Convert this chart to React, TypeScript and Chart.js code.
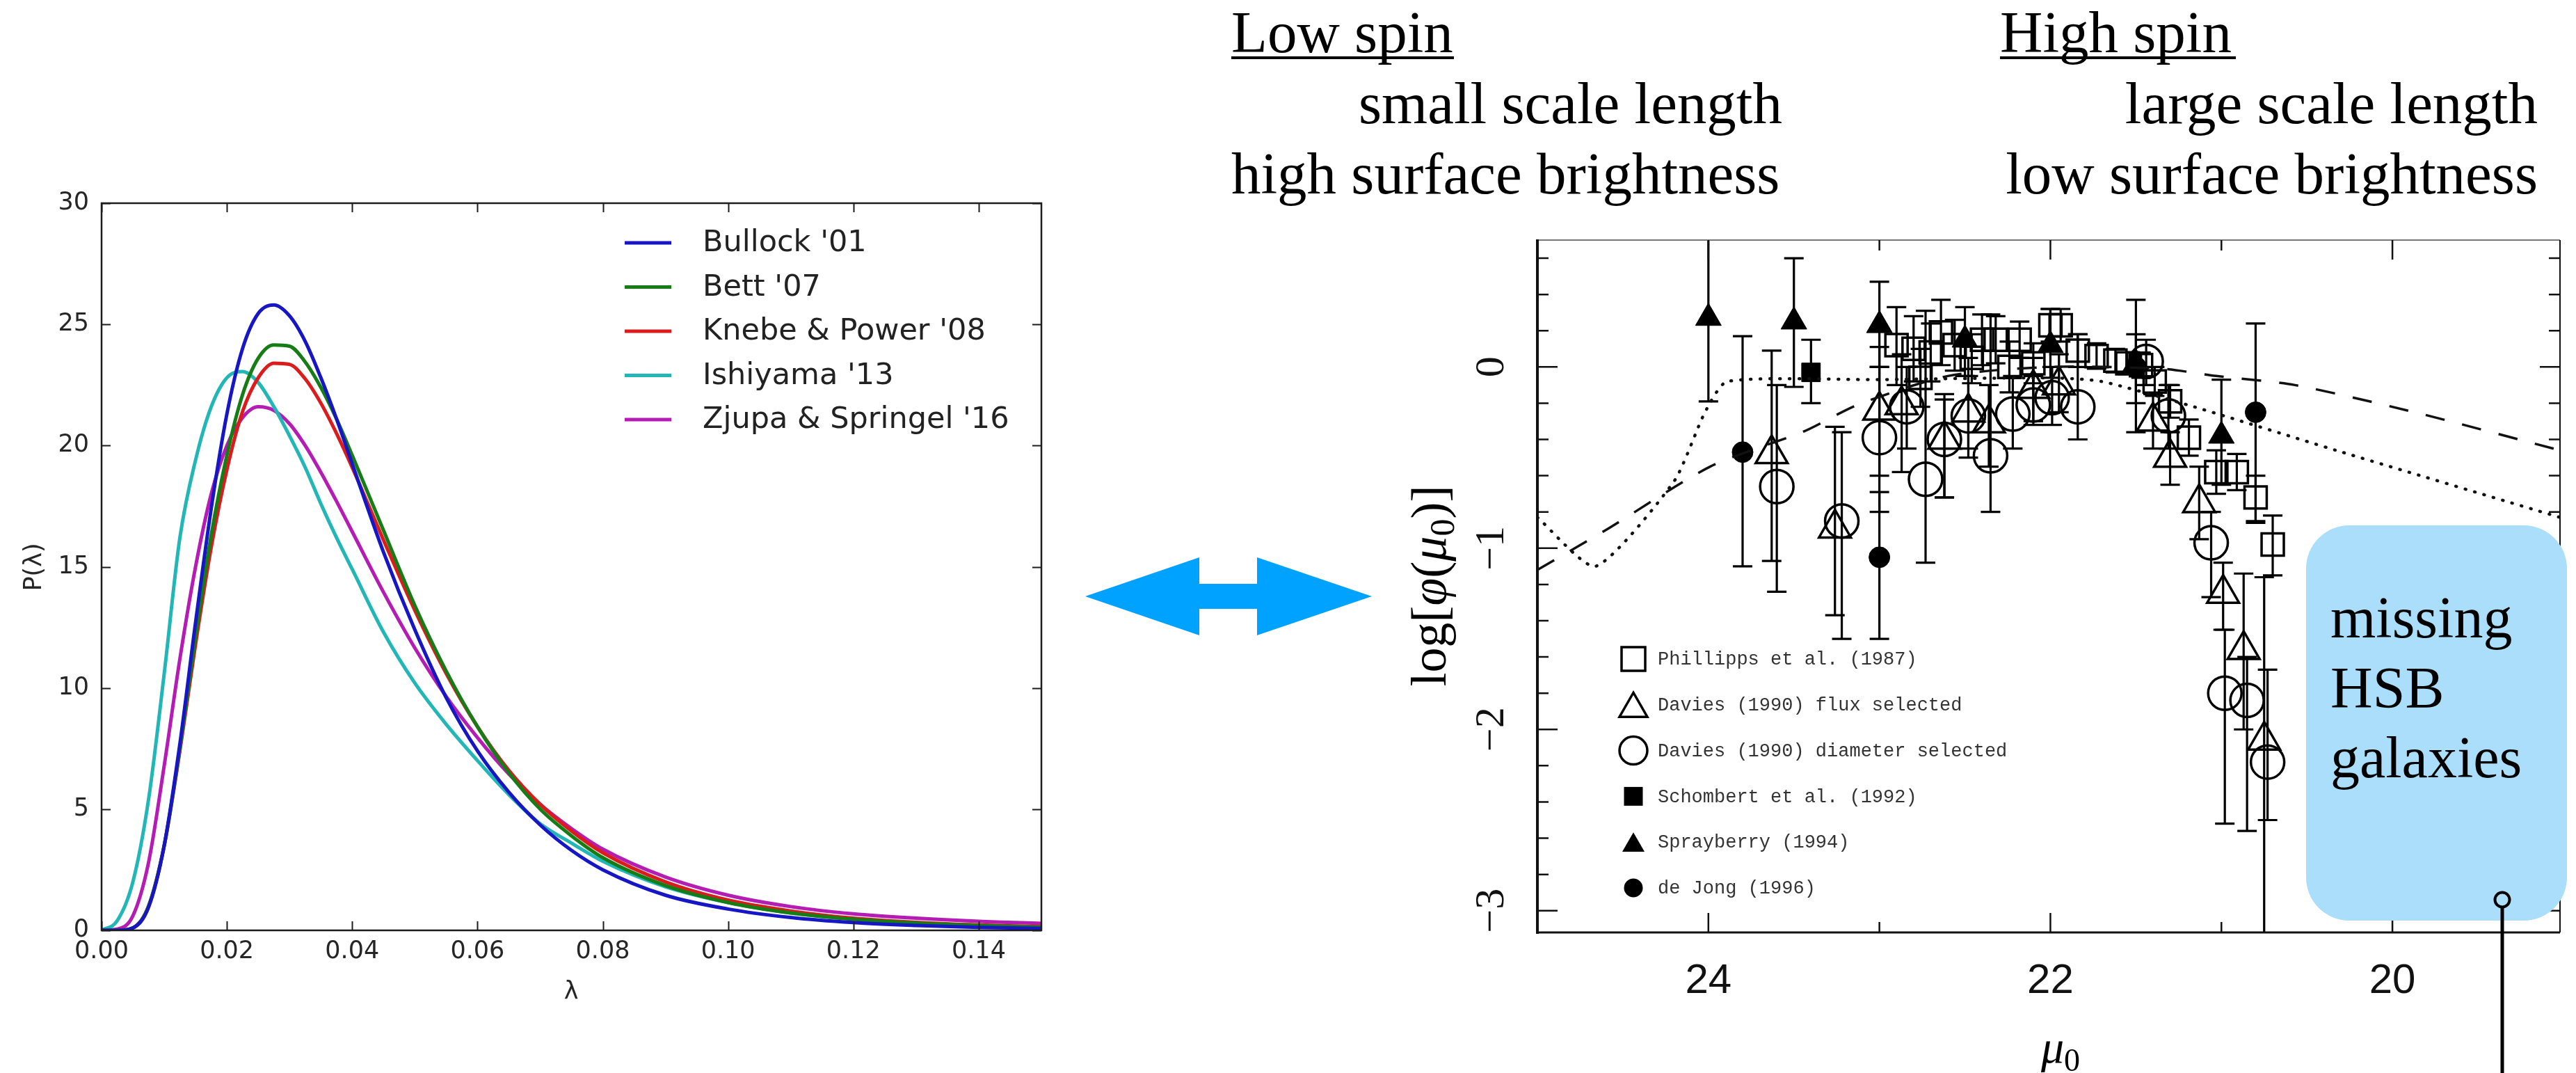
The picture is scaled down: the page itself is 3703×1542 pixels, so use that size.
import React, { useEffect, useRef } from 'react';
import { Chart, registerables } from 'chart.js';

Chart.register(...registerables);

// ---------------- Left panel: spin-parameter distributions ----------------
const LAMBDA = [0, 0.0025, 0.005, 0.0075, 0.01, 0.0125, 0.015, 0.0175, 0.02, 0.0225, 0.025, 0.0275, 0.03, 0.0325, 0.035, 0.0375, 0.04, 0.045, 0.05, 0.055, 0.06, 0.065, 0.07, 0.075, 0.08, 0.09, 0.10, 0.11, 0.12, 0.13, 0.14, 0.15];
const BULLOCK_01 = [0, 0, 0.1, 0.95, 3.5, 7.7, 12.7, 17.4, 21.3, 24.0, 25.45, 25.8, 25.35, 24.3, 22.8, 21.1, 19.25, 15.6, 12.4, 9.6, 7.4, 5.7, 4.35, 3.3, 2.5, 1.45, 0.88, 0.53, 0.32, 0.2, 0.12, 0.08];
const BETT_07 = [0, 0, 0.1, 1.0, 3.5, 7.5, 12.1, 16.3, 19.6, 22.1, 23.6, 24.15, 24.1, 23.45, 22.4, 21.1, 19.6, 16.5, 13.4, 10.7, 8.4, 6.5, 5.0, 3.9, 3.0, 1.85, 1.15, 0.72, 0.46, 0.3, 0.2, 0.13];
const KNEBE_POWER_08 = [0, 0, 0.1, 1.0, 3.5, 7.4, 11.8, 15.8, 19.0, 21.4, 22.8, 23.4, 23.35, 22.75, 21.75, 20.5, 19.1, 16.1, 13.2, 10.6, 8.4, 6.6, 5.2, 4.1, 3.2, 2.0, 1.25, 0.8, 0.5, 0.33, 0.22, 0.15];
const ISHIYAMA_13 = [0, 0.4, 2.0, 5.4, 10.6, 16.2, 19.4, 21.6, 22.8, 23.05, 22.6, 21.6, 20.4, 19.1, 17.6, 16.2, 14.9, 12.3, 10.2, 8.5, 7.0, 5.6, 4.4, 3.6, 2.85, 1.8, 1.15, 0.72, 0.47, 0.31, 0.21, 0.15];
const ZJUPA_SPRINGEL_16 = [0, 0.05, 0.6, 2.8, 6.8, 11.2, 15.0, 18.0, 20.0, 21.15, 21.6, 21.45, 20.9, 20.0, 18.9, 17.7, 16.45, 13.95, 11.65, 9.65, 7.95, 6.45, 5.2, 4.2, 3.35, 2.2, 1.45, 0.98, 0.68, 0.5, 0.37, 0.29];
const LEFT_LABELS = ["Bullock '01", "Bett '07", "Knebe & Power '08", "Ishiyama '13", "Zjupa & Springel '16"];
const LEFT_COLORS = ['#1616c4', '#167c16', '#dc1c1c', '#22b6b6', '#b41cb4'];
const LEFT_X_TICKS = [0, 0.02, 0.04, 0.06, 0.08, 0.10, 0.12, 0.14];
const LEFT_Y_TICKS = [0, 5, 10, 15, 20, 25, 30];

// ---------------- Right panel: surface brightness distribution ----------------
const PHIL_MU = [22.90, 22.80, 22.76, 22.70, 22.64, 22.56, 22.46, 22.40, 22.32, 22.24, 22.18, 22.10, 22.00, 21.94, 21.84, 21.73, 21.62, 21.55, 21.47, 21.39, 21.30, 21.19, 21.03, 20.91, 20.80, 20.70];
const PHIL_PHI = [0.12, 0.10, -0.06, 0.08, 0.19, 0.12, 0.05, 0.15, 0.15, 0.00, 0.15, 0.02, 0.23, 0.23, 0.09, 0.06, 0.035, 0.02, 0.01, -0.08, -0.19, -0.39, -0.58, -0.58, -0.72, -0.98];
const PHIL_HI = [0.33, 0.28, 0.10, 0.24, 0.37, 0.26, 0.18, 0.29, 0.28, 0.14, 0.25, 0.13, 0.32, 0.32, 0.18, 0.13, 0.10, 0.08, 0.08, 0.00, -0.10, -0.29, -0.46, -0.48, -0.60, -0.82];
const PHIL_LO = [-0.10, -0.08, -0.22, -0.08, 0.01, -0.02, -0.09, 0.01, 0.02, -0.14, 0.05, -0.09, 0.14, 0.14, 0.00, -0.01, -0.03, -0.04, -0.06, -0.16, -0.28, -0.49, -0.70, -0.68, -0.85, -1.15];

const DAVF_MU = [23.63, 23.26, 23.00, 22.87, 22.62, 22.48, 22.36, 22.10, 21.95, 21.40, 21.30, 21.13, 20.99, 20.87, 20.75];
const DAVF_PHI = [-0.48, -0.89, -0.24, -0.21, -0.40, -0.25, -0.31, -0.12, -0.10, -0.30, -0.50, -0.75, -1.25, -1.56, -2.06];
const DAVF_HI = [0.09, -0.33, 0.11, 0.07, -0.18, 0.05, -0.10, 0.05, 0.07, -0.15, -0.36, -0.55, -1.08, -1.14, -1.16];
const DAVF_LO = [-1.07, -1.37, -0.60, -0.58, -0.72, -0.45, -0.55, -0.30, -0.25, -0.45, -0.65, -0.95, -1.45, -2.00, -3.30];

const DAVD_MU = [23.60, 23.22, 23.00, 22.84, 22.73, 22.62, 22.48, 22.35, 22.22, 22.10, 21.99, 21.84, 21.44, 21.31, 21.06, 20.98, 20.85, 20.73];
const DAVD_PHI = [-0.66, -0.85, -0.39, -0.22, -0.62, -0.40, -0.27, -0.49, -0.26, -0.21, -0.17, -0.22, 0.03, -0.27, -0.97, -1.80, -1.84, -2.18];
const DAVD_HI = [-0.10, -0.36, 0.00, 0.00, 0.31, -0.15, -0.05, 0.29, -0.05, -0.05, 0.00, 0.18, 0.15, -0.10, -0.80, -1.45, -1.60, -1.67];
const DAVD_LO = [-1.24, -1.50, -0.80, -0.45, -1.08, -0.72, -0.50, -0.80, -0.45, -0.32, -0.32, -0.40, -0.10, -0.45, -1.27, -2.52, -2.56, -2.50];

const SCHO_MU = [23.40];
const SCHO_PHI = [-0.03];
const SCHO_HI = [0.15];
const SCHO_LO = [-0.20];

const SPRAY_MU = [24.0, 23.5, 23.0, 22.5, 22.0, 21.5, 21.0];
const SPRAY_PHI = [0.27, 0.25, 0.23, 0.15, 0.12, 0.02, -0.38];
const SPRAY_HI = [0.75, 0.60, 0.47, 0.33, 0.32, 0.37, -0.07];
const SPRAY_LO = [-0.19, -0.11, 0.00, -0.05, -0.06, -0.36, -0.65];

const DEJONG_MU = [23.8, 23.0, 21.5, 20.8];
const DEJONG_PHI = [-0.47, -1.05, 0.00, -0.25];
const DEJONG_HI = [0.17, -0.69, 0.18, 0.24];
const DEJONG_LO = [-1.10, -1.50, -0.20, -0.86];

const DASHED_MU = [25.0, 24.6, 23.99, 23.44, 23.13, 22.6, 22.0, 21.35, 21.03, 20.57, 19.87, 19.02];
const DASHED_PHI = [-1.12, -0.90, -0.55, -0.355, -0.21, -0.05, 0.0, -0.01, -0.05, -0.10, -0.25, -0.46];
const DOTTED_MU = [25.0, 24.66, 24.2, 24.02, 23.89, 23.0, 22.0, 21.7, 21.16, 20.33, 19.02];
const DOTTED_PHI = [-0.83, -1.10, -0.63, -0.25, -0.08, -0.07, -0.06, -0.08, -0.22, -0.46, -0.83];

const RIGHT_X_TICKS = [24, 23, 22, 21, 20];
const RIGHT_X_LABELS = ['24', '', '22', '', '20'];
const RIGHT_Y_TICKS = [-3, -2.8, -2.6, -2.4, -2.2, -2, -1.8, -1.6, -1.4, -1.2, -1, -0.8, -0.6, -0.4, -0.2, 0, 0.2, 0.4, 0.6];
const RIGHT_Y_MAJOR = [-3, -2, -1, 0];
const RIGHT_Y_LABELS = ['\u22123', '\u22122', '\u22121', '0'];

const LEGEND_R = [
  { label: 'Phillipps et al. (1987)', style: 'rect', filled: false },
  { label: 'Davies (1990) flux selected', style: 'triangle', filled: false },
  { label: 'Davies (1990) diameter selected', style: 'circle', filled: false },
  { label: 'Schombert et al. (1992)', style: 'rect', filled: true },
  { label: 'Sprayberry (1994)', style: 'triangle', filled: true },
  { label: 'de Jong (1996)', style: 'circle', filled: true },
];

// ---------------- Plugins ----------------
const leftDecor = {
  id: 'leftDecor',
  afterDraw(chart: any) {
    const { ctx, chartArea: a, scales } = chart;
    const xs = scales.x;
    const ys = scales.y;
    ctx.save();
    ctx.strokeStyle = '#1c1c1c';
    ctx.lineWidth = 2;
    ctx.beginPath();
    for (const v of LEFT_X_TICKS) {
      const px = Math.round(xs.getPixelForValue(v)) + 0.5;
      ctx.moveTo(px, a.bottom); ctx.lineTo(px, a.bottom - 13);
      ctx.moveTo(px, a.top); ctx.lineTo(px, a.top + 13);
    }
    for (const v of LEFT_Y_TICKS) {
      const py = Math.round(ys.getPixelForValue(v)) + 0.5;
      ctx.moveTo(a.left, py); ctx.lineTo(a.left + 13, py);
      ctx.moveTo(a.right, py); ctx.lineTo(a.right - 13, py);
    }
    ctx.stroke();
    ctx.lineWidth = 2.5;
    ctx.strokeRect(a.left, a.top, a.right - a.left, a.bottom - a.top);
    // legend
    ctx.font = '43px "DejaVu Sans"';
    ctx.textBaseline = 'middle';
    ctx.textAlign = 'left';
    chart.data.datasets.forEach((ds: any, i: number) => {
      const y = a.top + 57 + i * 63.5;
      ctx.strokeStyle = ds.borderColor;
      ctx.lineWidth = 5;
      ctx.beginPath();
      ctx.moveTo(a.left + 752, y); ctx.lineTo(a.left + 819, y);
      ctx.stroke();
      ctx.fillStyle = '#222';
      ctx.fillText(ds.label, a.left + 864, y + 1);
    });
    ctx.restore();
  },
};

function drawSymbol(ctx: any, style: string, x: number, y: number, size: number, filled: boolean) {
  ctx.beginPath();
  if (style === 'rect') {
    ctx.rect(x - size / 2, y - size / 2, size, size);
  } else if (style === 'triangle') {
    const h = size * 0.87;
    ctx.moveTo(x, y - h / 2);
    ctx.lineTo(x + size / 2, y + h / 2);
    ctx.lineTo(x - size / 2, y + h / 2);
    ctx.closePath();
  } else {
    ctx.ellipse(x, y, size / 2, size / 2, 0, 0, Math.PI * 2);
  }
  if (filled) { ctx.fillStyle = '#000'; ctx.fill(); }
  else { ctx.lineWidth = 3.5; ctx.strokeStyle = '#000'; ctx.stroke(); }
}

const rightDecor = {
  id: 'rightDecor',
  beforeDatasetsDraw(chart: any) {
    const { ctx, chartArea: a, scales } = chart;
    const xs = scales.x;
    const ys = scales.y;
    ctx.save();
    ctx.beginPath();
    ctx.rect(a.left, a.top, a.right - a.left, a.bottom - a.top);
    ctx.clip();
    ctx.strokeStyle = '#000';
    ctx.lineWidth = 3.2;
    chart.data.datasets.forEach((ds: any) => {
      if (!ds.errorBars) return;
      ds.data.forEach((p: any) => {
        const px = xs.getPixelForValue(p.x);
        const yh = ys.getPixelForValue(p.hi);
        const yl = ys.getPixelForValue(p.lo);
        ctx.beginPath();
        ctx.moveTo(px, yh); ctx.lineTo(px, yl);
        ctx.moveTo(px - 14, yh); ctx.lineTo(px + 14, yh);
        ctx.moveTo(px - 14, yl); ctx.lineTo(px + 14, yl);
        ctx.stroke();
      });
    });
    ctx.restore();
  },
  afterDraw(chart: any) {
    const { ctx, chartArea: a, scales } = chart;
    const xs = scales.x;
    const ys = scales.y;
    ctx.save();
    // frame
    ctx.strokeStyle = '#777';
    ctx.lineWidth = 2;
    ctx.beginPath(); ctx.moveTo(a.left, a.top); ctx.lineTo(a.right, a.top); ctx.stroke();
    ctx.strokeStyle = '#111';
    ctx.beginPath(); ctx.moveTo(a.right, a.top); ctx.lineTo(a.right, a.bottom); ctx.stroke();
    ctx.lineWidth = 4;
    ctx.beginPath(); ctx.moveTo(a.left, a.top - 1); ctx.lineTo(a.left, a.bottom + 2); ctx.stroke();
    ctx.lineWidth = 3;
    ctx.beginPath(); ctx.moveTo(a.left, a.bottom); ctx.lineTo(a.right, a.bottom); ctx.stroke();
    // x ticks
    ctx.lineWidth = 2.5;
    ctx.beginPath();
    RIGHT_X_TICKS.forEach((v, i) => {
      const px = xs.getPixelForValue(v);
      const len = RIGHT_X_LABELS[i] ? 28 : 15;
      ctx.moveTo(px, a.bottom); ctx.lineTo(px, a.bottom - len);
      ctx.moveTo(px, a.top); ctx.lineTo(px, a.top + len);
    });
    // y ticks
    RIGHT_Y_TICKS.forEach((v) => {
      const py = ys.getPixelForValue(v);
      const len = RIGHT_Y_MAJOR.includes(v) ? 29 : 16;
      ctx.moveTo(a.left, py); ctx.lineTo(a.left + len, py);
      ctx.moveTo(a.right, py); ctx.lineTo(a.right - len, py);
    });
    ctx.stroke();
    // x labels
    ctx.fillStyle = '#111';
    ctx.font = '60px "Liberation Sans"';
    ctx.textAlign = 'center';
    ctx.textBaseline = 'middle';
    RIGHT_X_TICKS.forEach((v, i) => {
      if (!RIGHT_X_LABELS[i]) return;
      ctx.fillText(RIGHT_X_LABELS[i], xs.getPixelForValue(v), a.bottom + 70);
    });
    // y labels (rotated)
    ctx.font = '60px "Liberation Serif"';
    RIGHT_Y_MAJOR.forEach((v, i) => {
      ctx.save();
      ctx.translate(a.left - 65, ys.getPixelForValue(v));
      ctx.rotate(-Math.PI / 2);
      ctx.fillText(RIGHT_Y_LABELS[i], 0, 0);
      ctx.restore();
    });
    // legend
    ctx.textAlign = 'left';
    ctx.font = '27px "Liberation Mono"';
    LEGEND_R.forEach((e, i) => {
      const y = a.top + 602 + i * 65.8;
      const sz = e.filled ? (e.style === 'triangle' ? 32 : 27) : (e.style === 'rect' ? 34 : 40);
      drawSymbol(ctx, e.style, a.left + 138, y, sz, e.filled);
      ctx.fillStyle = '#333';
      ctx.fillText(e.label, a.left + 173, y + 1);
    });
    ctx.restore();
  },
};

function pts(mu: number[], phi: number[], hi?: number[], lo?: number[]) {
  return mu.map((m, i) => ({ x: m, y: phi[i], hi: hi ? hi[i] : phi[i], lo: lo ? lo[i] : phi[i] }));
}

function markerSet(label: string, mu: number[], phi: number[], hi: number[], lo: number[], style: string, radius: number, filled: boolean) {
  return {
    type: 'scatter',
    label,
    data: pts(mu, phi, hi, lo),
    pointStyle: style,
    pointRadius: radius,
    pointBorderWidth: filled ? 1 : 3.5,
    pointBorderColor: '#000',
    pointBackgroundColor: filled ? '#000' : 'rgba(0,0,0,0)',
    showLine: false,
    errorBars: true,
  };
}

export default function App() {
  const leftRef = useRef<HTMLCanvasElement>(null);
  const rightRef = useRef<HTMLCanvasElement>(null);

  useEffect(() => {
    const series = [BULLOCK_01, BETT_07, KNEBE_POWER_08, ISHIYAMA_13, ZJUPA_SPRINGEL_16];
    const left = new Chart(leftRef.current as HTMLCanvasElement, {
      type: 'line',
      data: {
        datasets: series.map((vals, i) => ({
          label: LEFT_LABELS[i],
          data: LAMBDA.map((l, j) => ({ x: l, y: vals[j] })),
          borderColor: LEFT_COLORS[i],
          borderWidth: 5,
          pointRadius: 0,
          fill: false,
          cubicInterpolationMode: 'monotone',
        })),
      } as any,
      options: {
        responsive: false,
        maintainAspectRatio: false,
        devicePixelRatio: 1,
        animation: false,
        events: [],
        layout: { padding: { left: 0, top: 292, right: 63, bottom: 55 } },
        plugins: { legend: { display: false }, tooltip: { enabled: false } },
        scales: {
          x: {
            type: 'linear', min: 0, max: 0.15,
            afterBuildTicks: (s: any) => { s.ticks = LEFT_X_TICKS.map((v) => ({ value: v })); },
            afterFit: (s: any) => { s.height = 150; },
            grid: { display: false, drawTicks: false },
            border: { display: false },
            ticks: {
              callback: (v: any) => Number(v).toFixed(2),
              font: { family: 'DejaVu Sans', size: 35 },
              color: '#262626', padding: 10, maxRotation: 0, minRotation: 0, autoSkip: false,
            },
          },
          y: {
            type: 'linear', min: 0, max: 30,
            afterBuildTicks: (s: any) => { s.ticks = LEFT_Y_TICKS.map((v) => ({ value: v })); },
            afterFit: (s: any) => { s.width = 146; },
            grid: { display: false, drawTicks: false },
            border: { display: false },
            ticks: { font: { family: 'DejaVu Sans', size: 35 }, color: '#262626', padding: 18 },
          },
        },
      } as any,
      plugins: [leftDecor],
    });

    const right = new Chart(rightRef.current as HTMLCanvasElement, {
      type: 'scatter',
      data: {
        datasets: [
          { type: 'line', label: 'model (dashed)', data: pts(DASHED_MU, DASHED_PHI), borderColor: '#111', borderWidth: 3.5, borderDash: [28, 26], pointRadius: 0, showLine: true, tension: 0.25, fill: false },
          { type: 'line', label: 'model (dotted)', data: pts(DOTTED_MU, DOTTED_PHI), borderColor: '#111', borderWidth: 4.5, borderDash: [1, 13], borderCapStyle: 'round', pointRadius: 0, showLine: true, tension: 0.2, fill: false },
          markerSet('Phillipps et al. (1987)', PHIL_MU, PHIL_PHI, PHIL_HI, PHIL_LO, 'rect', 22.6, false),
          markerSet('Davies (1990) flux selected', DAVF_MU, DAVF_PHI, DAVF_HI, DAVF_LO, 'triangle', 26.5, false),
          markerSet('Davies (1990) diameter selected', DAVD_MU, DAVD_PHI, DAVD_HI, DAVD_LO, 'circle', 24, false),
          markerSet('Schombert et al. (1992)', SCHO_MU, SCHO_PHI, SCHO_HI, SCHO_LO, 'rect', 19, true),
          markerSet('Sprayberry (1994)', SPRAY_MU, SPRAY_PHI, SPRAY_HI, SPRAY_LO, 'triangle', 21.4, true),
          markerSet('de Jong (1996)', DEJONG_MU, DEJONG_PHI, DEJONG_HI, DEJONG_LO, 'circle', 15, true),
        ],
      } as any,
      options: {
        responsive: false,
        maintainAspectRatio: false,
        devicePixelRatio: 1,
        animation: false,
        events: [],
        layout: { padding: { left: 220, top: 45, right: 5, bottom: 202 } },
        plugins: { legend: { display: false }, tooltip: { enabled: false } },
        scales: {
          x: { type: 'linear', reverse: true, min: 19.02, max: 25, display: false },
          y: { type: 'linear', min: -3.12, max: 0.70, display: false },
        },
      } as any,
      plugins: [rightDecor],
    });

    return () => { left.destroy(); right.destroy(); };
  }, []);

  const serif = "'Liberation Serif', 'Times New Roman', serif";
  return (
    <div style={{ position: 'fixed', left: 0, top: 0, width: 3703, height: 1542, background: '#fff', overflow: 'hidden' }}>
      <canvas ref={leftRef} width={1560} height={1542} style={{ position: 'absolute', left: 0, top: 0, width: 1560, height: 1542 }} />
      <canvas ref={rightRef} width={1720} height={1242} style={{ position: 'absolute', left: 1990, top: 300, width: 1720, height: 1242 }} />
      <svg width={3703} height={1542} style={{ position: 'absolute', left: 0, top: 0 }}>
        {/* left axis titles */}
        <text transform="translate(47,815) rotate(-90)" textAnchor="middle" dominantBaseline="central" fontFamily="'DejaVu Sans'" fontSize={35} fill="#262626">P(λ)</text>
        <text x={821} y={1423} textAnchor="middle" dominantBaseline="central" fontFamily="'DejaVu Sans'" fontSize={35} fill="#262626">λ</text>
        {/* double arrow */}
        <polygon points="1560,857 1724,801 1724,839 1807,839 1807,801 1972,857 1807,913 1807,875 1724,875 1724,913" fill="#00a2ff" />
        {/* headings */}
        <g fontFamily={serif} fontSize={85} fill="#000">
          <text x={1770} y={75}>Low spin</text>
          <text x={2562} y={177} textAnchor="end">small scale length</text>
          <text x={1770} y={278}>high surface brightness</text>
          <text x={2875} y={75}>High spin</text>
          <text x={3648} y={177} textAnchor="end">large scale length</text>
          <text x={3648} y={278} textAnchor="end">low surface brightness</text>
        </g>
        <line x1={1770} x2={2090} y1={83} y2={83} stroke="#000" strokeWidth={4} />
        <line x1={2875} x2={3214} y1={83} y2={83} stroke="#000" strokeWidth={4} />
        {/* right axis titles */}
        <text transform="translate(2078,842) rotate(-90)" textAnchor="middle" fontFamily={serif} fontSize={72} fill="#000">
          log[<tspan fontStyle="italic">φ</tspan>(<tspan fontStyle="italic">μ</tspan><tspan fontSize={50} dy={12}>0</tspan><tspan dy={-12}>)]</tspan>
        </text>
        <text x={2962} y={1527} textAnchor="middle" fontFamily={serif} fontSize={66} fill="#000">
          <tspan fontStyle="italic">μ</tspan><tspan fontSize={46} dy={12}>0</tspan>
        </text>
        {/* missing HSB box */}
        <rect x={3315} y={755} width={375} height={568} rx={62} ry={62} fill="#aadefa" />
        <g fontFamily={serif} fontSize={84} fill="#000">
          <text x={3350} y={916}>missing</text>
          <text x={3350} y={1017}>HSB</text>
          <text x={3350} y={1117}>galaxies</text>
        </g>
        <line x1={3597} y1={1304} x2={3597} y2={1542} stroke="#000" strokeWidth={5} />
        <circle cx={3597} cy={1293} r={10.5} fill="#aadefa" stroke="#000" strokeWidth={4} />
      </svg>
    </div>
  );
}
